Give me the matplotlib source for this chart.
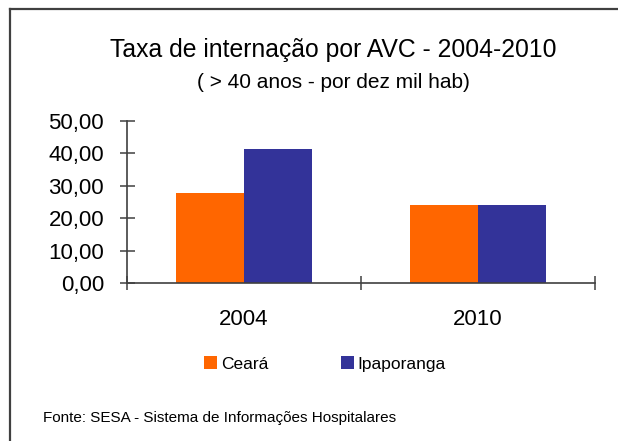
import matplotlib
matplotlib.use("Agg")
import matplotlib.pyplot as plt
from matplotlib.patches import Patch
from matplotlib.lines import Line2D
import numpy as np

plt.rcParams['font.family'] = ['Liberation Sans', 'DejaVu Sans']

categories = ['2004', '2010']
series_names = ['Ceará', 'Ipaporanga']
ceara = [27.8, 24.0]
ipaporanga = [41.3, 24.0]
y_ticks = [0, 10, 20, 30, 40, 50]
y_tick_labels = ['0,00', '10,00', '20,00', '30,00', '40,00', '50,00']
colors = ['#FF6600', '#333399']

W, H = 618, 441
fig = plt.figure(figsize=(W / 100, H / 100), dpi=100)
fig.patch.set_facecolor('white')

# outer frame: top and left edges only (others lie outside the picture)
fx, fy = 9.5 / W, 1 - 8.5 / H
fig.add_artist(Line2D([fx, 1.0], [fy, fy], transform=fig.transFigure,
                      color='#404040', linewidth=1.6, solid_capstyle='projecting'))
fig.add_artist(Line2D([fx, fx], [0.0, fy], transform=fig.transFigure,
                      color='#404040', linewidth=1.6, solid_capstyle='projecting'))

ax = fig.add_axes([126.7 / W, 1 - 283.3 / H, (594.7 - 126.7) / W, (283.3 - 120.7) / H])
x = np.arange(len(categories)) + 0.5
bw = 0.29
ax.bar(x - bw / 2, ceara, bw, color=colors[0], linewidth=0)
ax.bar(x + bw / 2, ipaporanga, bw, color=colors[1], linewidth=0)

ax.set_xlim(0, len(categories))
ax.set_ylim(0, 50)
for s in ['top', 'right']:
    ax.spines[s].set_visible(False)
for s in ['left', 'bottom']:
    ax.spines[s].set_color('#404040')
    ax.spines[s].set_linewidth(1.2)

ax.set_yticks(y_ticks)
ax.set_yticklabels(y_tick_labels, fontsize=16)
ax.tick_params(axis='y', direction='inout', length=10.8, width=1.1, color='#404040', pad=10.9)

ax.set_xticks([0, 1, 2])
ax.set_xticklabels([])
ax.set_xticks(x, minor=True)
ax.set_xticklabels(categories, minor=True, fontsize=16)
ax.tick_params(axis='x', which='major', direction='inout', length=9.6, width=1.1, color='#404040')
ax.tick_params(axis='x', which='minor', length=0, pad=18.5)

fig.text(333 / W, 1 - 56.7 / H, 'Taxa de internação por AVC - 2004-2010',
         ha='center', va='baseline', fontsize=17.8)
fig.text(333.5 / W, 1 - 88.3 / H, '( > 40 anos - por dez mil hab)',
         ha='center', va='baseline', fontsize=15)

handles = [Patch(facecolor=c, edgecolor='none') for c in colors]
fig.legend(handles, series_names, loc='center', bbox_to_anchor=(325 / W, 1 - 364 / H),
           ncol=2, frameon=False, fontsize=12.5, handlelength=0.75, handleheight=0.75,
           handletextpad=0.2, columnspacing=4.2, borderaxespad=0, borderpad=0)

fig.text(42.7 / W, 1 - 421.7 / H, 'Fonte: SESA - Sistema de Informações Hospitalares',
         ha='left', va='baseline', fontsize=11)

fig.savefig('out.png', dpi=100)
